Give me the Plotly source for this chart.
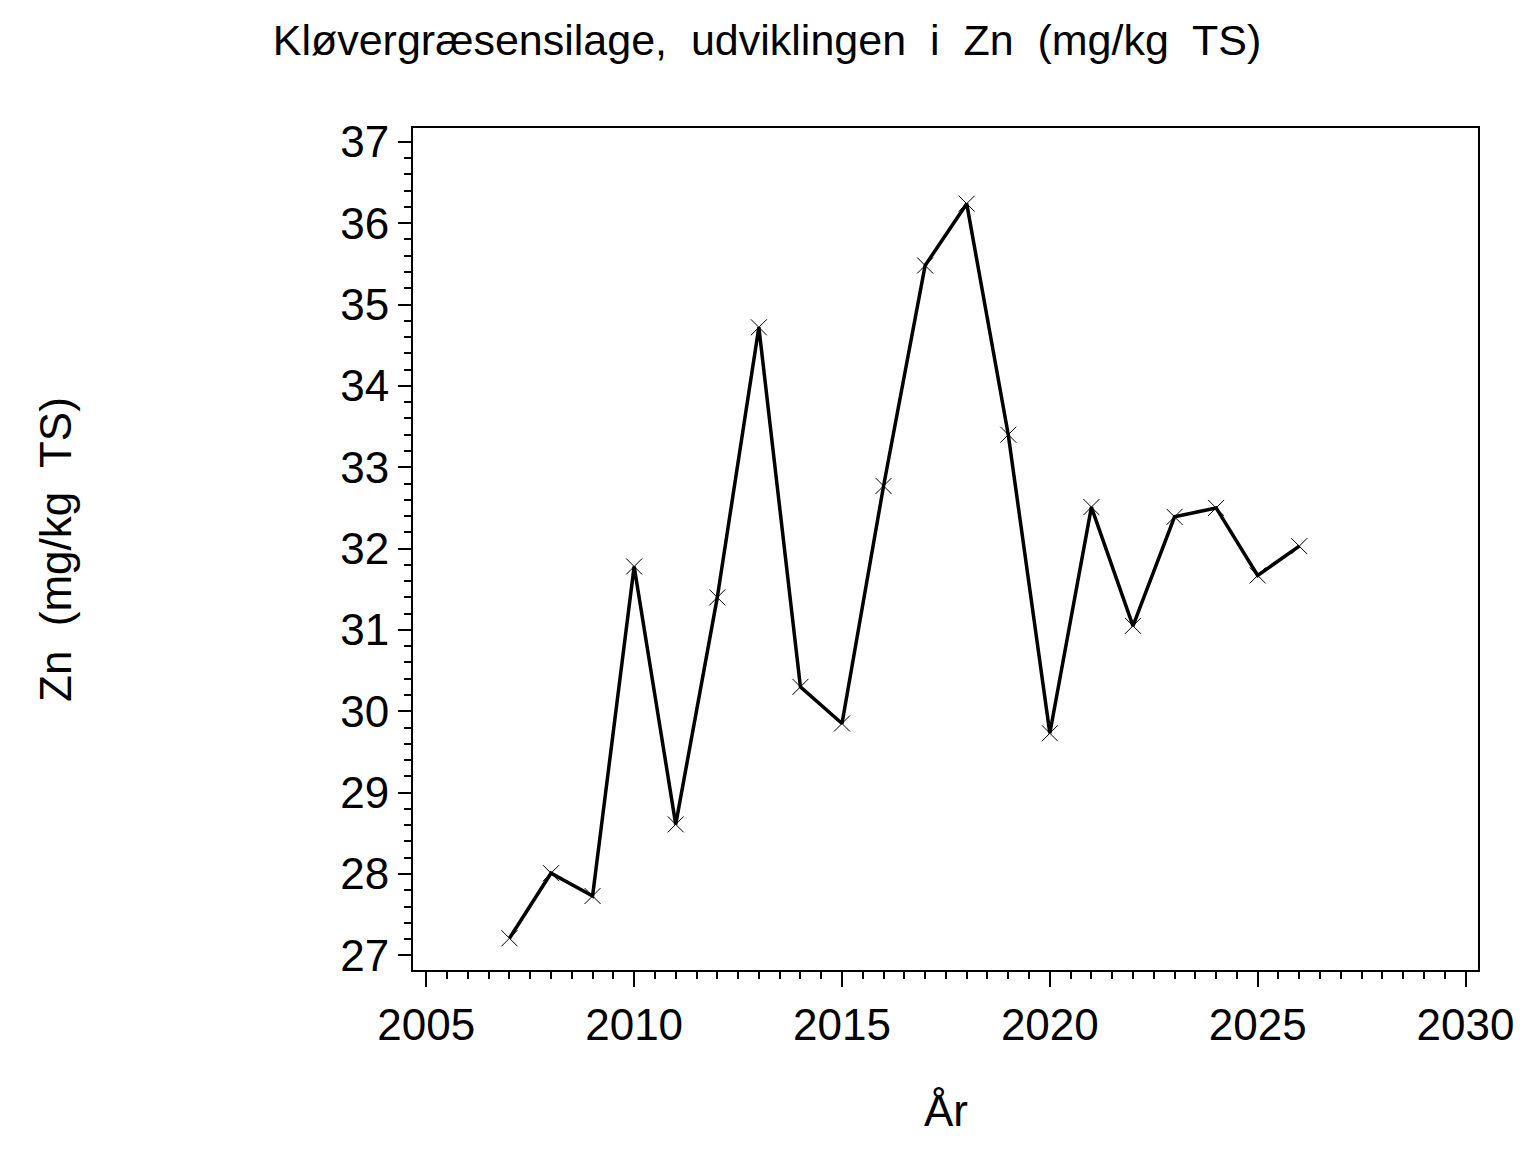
import plotly.graph_objects as go

# data
years = [2007, 2008, 2009, 2010, 2011, 2012, 2013, 2014, 2015, 2016,
         2017, 2018, 2019, 2020, 2021, 2022, 2023, 2024, 2025, 2026]
zn = [27.21, 28.01, 27.73, 31.78, 28.61, 31.40, 34.72, 30.30, 29.85, 32.77,
      35.48, 36.24, 33.40, 29.73, 32.51, 31.05, 32.39, 32.50, 31.67, 32.03]

title_text = "Kløvergræsensilage,  udviklingen  i  Zn  (mg/kg  TS)"
x_title = "År"
y_title = "Zn  (mg/kg  TS)"

FONT = "Liberation Sans, Arial, sans-serif"

fig = go.Figure()
fig.add_trace(go.Scatter(x=years, y=zn, mode="lines+markers",
                         line=dict(color="black", width=3.5),
                         marker=dict(symbol="x-thin", size=16,
                                     line=dict(color="black", width=1)),
                         showlegend=False))

# page body adds an 8px offset, margins compensate for it
fig.update_layout(
    width=1536, height=1152,
    paper_bgcolor="white", plot_bgcolor="white",
    margin=dict(l=405, r=66, t=120, b=190),
    font=dict(family=FONT, size=44, color="black"),
    title=dict(text=title_text, x=759 / 1536, xref="container", xanchor="center",
               y=1 - 32 / 1152, yref="container", yanchor="middle",
               font=dict(family=FONT, size=43, color="black")),
)

fig.update_xaxes(range=[2004.68, 2030.30], tick0=2005, dtick=5,
                 ticks="outside", ticklen=15, tickwidth=2, tickcolor="black",
                 minor=dict(dtick=0.5, ticks="outside", ticklen=7,
                            tickwidth=1.5, tickcolor="black"),
                 showline=True, linecolor="black", linewidth=2, mirror=True,
                 showgrid=False, zeroline=False,
                 tickfont=dict(family=FONT, size=44))
fig.update_yaxes(range=[26.82, 37.17], tick0=27, dtick=1,
                 ticks="outside", ticklen=13, tickwidth=2, tickcolor="black",
                 minor=dict(dtick=0.2, ticks="outside", ticklen=7,
                            tickwidth=1.5, tickcolor="black"),
                 showline=True, linecolor="black", linewidth=2, mirror=True,
                 showgrid=False, zeroline=False,
                 tickfont=dict(family=FONT, size=44))

# axis titles placed as annotations
fig.add_annotation(text=x_title, xref="paper", yref="paper",
                   x=0.5, y=-(1110 - 970) / 842, yanchor="middle",
                   showarrow=False, font=dict(family=FONT, size=44))
fig.add_annotation(text=y_title, xref="paper", yref="paper",
                   x=-(413 - 55) / 1065, y=(970 - 550) / 842,
                   xanchor="center", yanchor="middle", textangle=-90,
                   showarrow=False, font=dict(family=FONT, size=44))

fig.write_html("out.html")
